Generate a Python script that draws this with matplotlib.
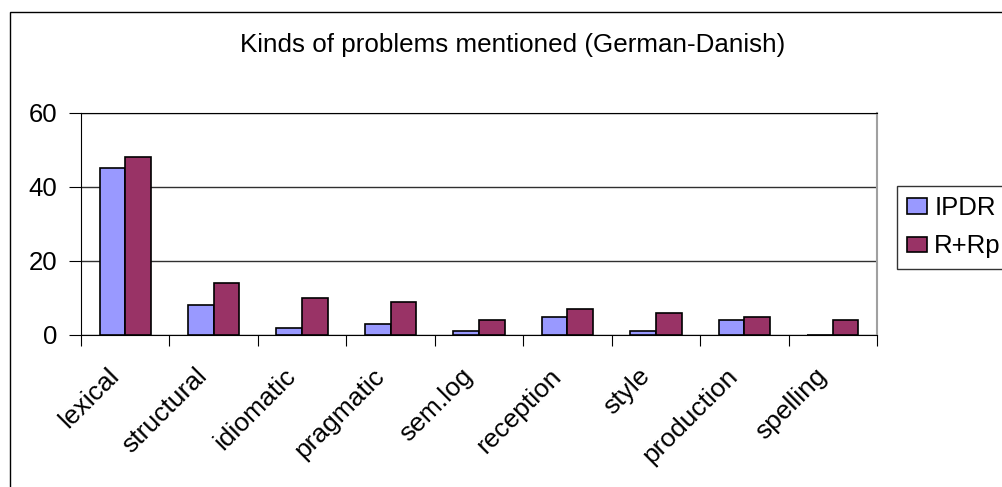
import matplotlib
matplotlib.use('Agg')
import matplotlib.pyplot as plt
from matplotlib.patches import Rectangle
import matplotlib.transforms as mtransforms
import numpy as np

plt.rcParams['font.family'] = ['Liberation Sans', 'DejaVu Sans']

categories = ["lexical", "structural", "idiomatic", "pragmatic", "sem.log",
              "reception", "style", "production", "spelling"]
ipdr = [45, 8, 2, 3, 1, 5, 1, 4, 0]
r_rp = [48, 14, 10, 9, 4, 7, 6, 5, 4]
series_names = ["IPDR", "R+Rp"]
yticks = [0, 20, 40, 60]

W, H = 1003, 487
fig = plt.figure(figsize=(W / 100, H / 100), dpi=100)

# outer chart border (extends past the image on right and bottom)
fig.patches.append(Rectangle((10 / W, -0.2), 1.2, 1 - 12 / H + 0.2,
                             transform=fig.transFigure, fill=False,
                             edgecolor='black', linewidth=1, clip_on=False))

ax = fig.add_axes([81 / W, 1 - 335 / H, (877 - 81) / W, (335 - 113) / H])

x = np.arange(len(categories))
bw = 0.29
ax.bar(x - bw / 2, ipdr, bw, color='#9999FF', edgecolor='black', linewidth=1.2,
       label=series_names[0], zorder=3)
ax.bar(x + bw / 2, r_rp, bw, color='#993366', edgecolor='black', linewidth=1.2,
       label=series_names[1], zorder=3)

ax.set_xlim(-0.5, len(categories) - 0.5)
ax.set_ylim(0, 60)
ax.set_yticks(yticks)
ax.tick_params(axis='y', labelsize=18.5, length=9, direction='out', pad=8)
ax.yaxis.grid(True, color='#303030', linewidth=1)
ax.set_axisbelow(True)

ax.set_xticks(np.arange(-0.5, len(categories), 1.0))
ax.set_xticklabels([])
ax.tick_params(axis='x', which='major', length=8, direction='out')
ax.set_xticks(x, minor=True)
ax.set_xticklabels(categories, minor=True, rotation=45, ha='right', va='center',
                   rotation_mode='anchor', fontsize=19)
ax.tick_params(axis='x', which='minor', length=0, pad=27)
shift = mtransforms.ScaledTranslation(-10 / 100, 0, fig.dpi_scale_trans)
for lbl in ax.get_xticklabels(minor=True):
    lbl.set_transform(lbl.get_transform() + shift)

for s in ['left', 'bottom', 'top']:
    ax.spines[s].set_color('black')
ax.spines['right'].set_color('#A0A0A0')
ax.spines['right'].set_linewidth(1.5)

fig.text(513 / W, 1 - 45 / H, "Kinds of problems mentioned (German-Danish)",
         ha='center', va='center', fontsize=18.7)

leg = fig.legend(loc='upper left', bbox_to_anchor=(897 / W, 1 - 186 / H),
                 fontsize=18.5, frameon=True, fancybox=False, handlelength=0.75,
                 handleheight=0.55, handletextpad=0.3, borderpad=0.4,
                 labelspacing=0.55, borderaxespad=0)
leg.get_frame().set_edgecolor('black')
leg.get_frame().set_linewidth(1)

fig.savefig('out.png', dpi=100)
